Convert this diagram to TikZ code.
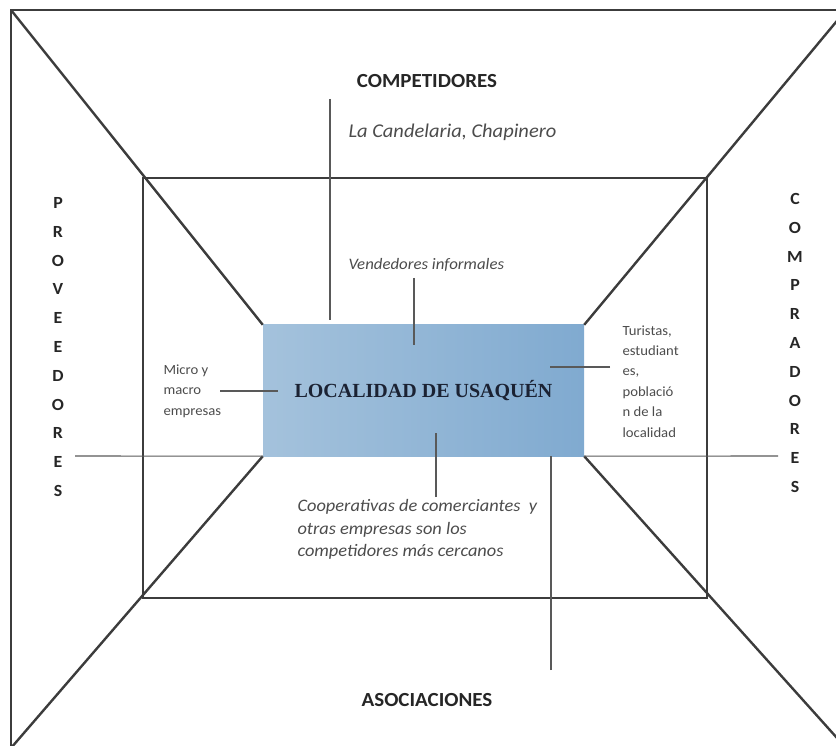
\documentclass[tikz,border=0pt]{standalone}
\usepackage{fontspec}
\setmainfont{Carlito}[FakeStretch=1.05]
\newfontfamily\boxfont{Liberation Serif}
\definecolor{linegray}{HTML}{3C3C3C}
\definecolor{boxleft}{HTML}{A4C2DC}
\definecolor{boxlight}{HTML}{D8E5F0}
\definecolor{boxdark}{HTML}{80AAD0}
\definecolor{boxtext}{HTML}{1B2233}
\begin{document}
\begin{tikzpicture}[x=1pt,y=-1pt,
  frame/.style={draw=linegray, line width=2.4pt},
  link/.style={draw=linegray!85, line width=1.1pt},
  heading/.style={font=\bfseries\fontsize{20}{22}\selectfont, text=black!85},
  remark/.style={font=\itshape\fontsize{17.5}{22.5}\selectfont, text=black!70, align=left},
  tiny/.style={font=\fontsize{14}{20.4}\selectfont, text=black!70, align=left},
  upright/.style={font=\bfseries\fontsize{17}{28.8}\selectfont, text=black!85, align=center}]
\useasboundingbox (0,0) rectangle (836,746);
\clip (0,0) rectangle (836,746);
% frames
\draw[frame] (11,10) rectangle (846,748);
\draw[frame] (143,178) rectangle (707,598);
% centre box
\node[left color=boxleft, middle color=boxlight, right color=boxdark, minimum width=321pt, minimum height=131pt,
  inner sep=0pt, font=\boxfont\bfseries\fontsize{20}{24}\selectfont, text=boxtext] (loc) at (423.5,390.5) {LOCALIDAD DE USAQUÉN};
\draw[frame] (11,10) -- (loc.north west);
\draw[frame] (846,10) -- (loc.north east);
\draw[frame] (11,748) -- (loc.south west);
\draw[frame] (846,748) -- (loc.south east);
% labels
\node[heading] (comp) at (427,81) {COMPETIDORES};
\node[heading] (asoc) at (427,700) {ASOCIACIONES};
\node[upright] (prov) at (58,347) {P\\R\\O\\V\\E\\E\\D\\O\\R\\E\\S};
\node[upright] (compr) at (795,343) {C\\O\\M\\P\\R\\A\\D\\O\\R\\E\\S};
\node[remark, font=\itshape\fontsize{19.5}{22}\selectfont, anchor=west] (cand) at (345,132) {La Candelaria, Chapinero};
\node[remark, font=\itshape\fontsize{16}{18}\selectfont, anchor=west] (vend) at (345,265) {Vendedores informales};
\node[remark, anchor=north west] (coop) at (294,496) {Cooperativas de comerciantes\ \ y\\otras empresas son los\\competidores más cercanos};
\node[tiny, anchor=west] (micro) at (160,391) {Micro y\\macro\\empresas};
\node[tiny, anchor=north west] (tur) at (619,322) {Turistas,\\estudiant\\es,\\població\\n de la\\localidad};
% connectors
\coordinate (c1) at (330,99);
\coordinate (c2) at (414,278);
\coordinate (c3) at (610,367);
\coordinate (c4) at (220,391);
\coordinate (c5) at (436,497);
\coordinate (c6) at (551,670);
\coordinate (c7) at (75,456);
\coordinate (c8) at (778,456);
\draw[link] (c1) -- ([yshift=5pt]c1 |- loc.north);
\draw[link] (c2) -- ([yshift=-20pt]c2 |- loc.north);
\draw[link] (c3) -- (550,367);
\draw[link] (c4) -- (278,391);
\draw[link] (c5) -- (436,433);
\draw[link] (c6) -- (c6 |- loc.south);
\draw[link] (c7) -- (loc.south west);
\draw[link] (loc.south east) -- (c8);
\end{tikzpicture}
\end{document}
